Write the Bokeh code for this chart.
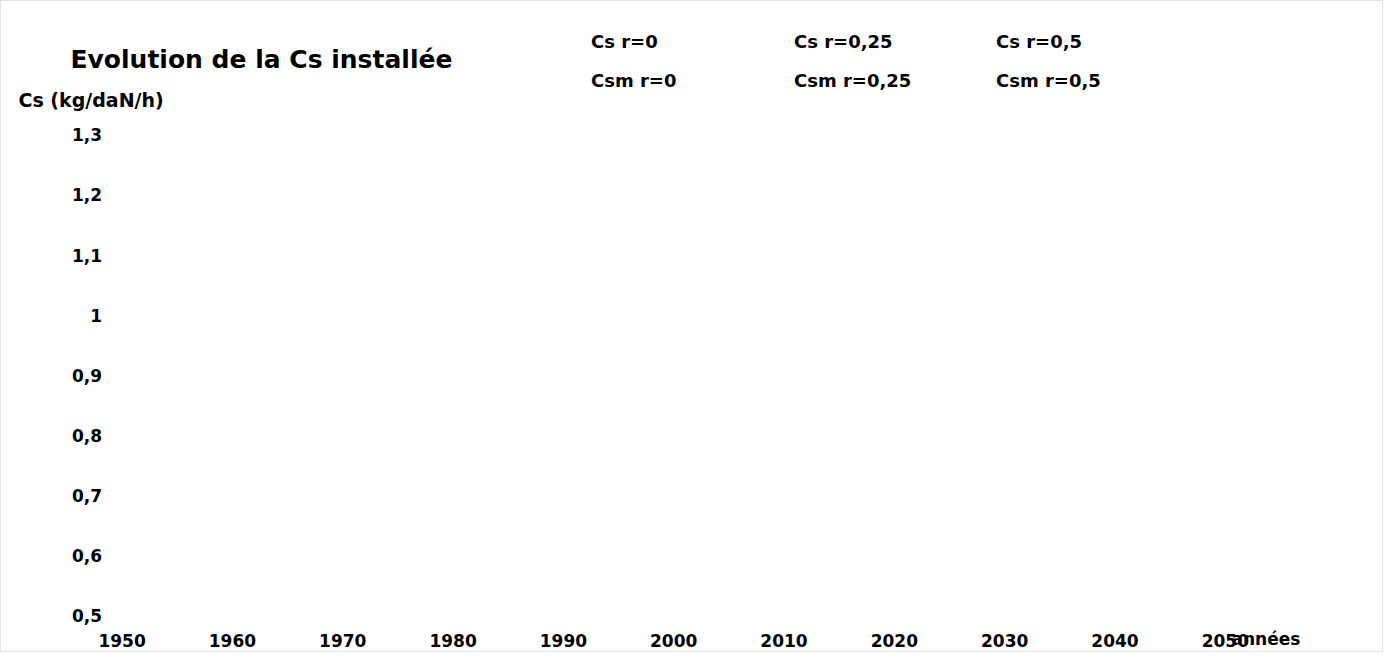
from bokeh.plotting import figure
from bokeh.models import Range1d, FixedTicker, Label, Legend, LegendItem
from bokeh.embed import file_html
from bokeh.resources import INLINE

# ---- data ----
years = [1950, 1960, 1970, 1980, 1990, 2000, 2010, 2020, 2030, 2040, 2050]
y_ticks = [0.5, 0.6, 0.7, 0.8, 0.9, 1.0, 1.1, 1.2, 1.3]
y_tick_labels = ["0,5", "0,6", "0,7", "0,8", "0,9", "1", "1,1", "1,2", "1,3"]
cs_names = ["Cs r=0", "Cs r=0,25", "Cs r=0,5"]
csm_names = ["Csm r=0", "Csm r=0,25", "Csm r=0,5"]
# the series contain no plotted points in the reference
cs_x = [[], [], []]
cs_y = [[], [], []]
csm_x = [[], [], []]
csm_y = [[], [], []]

title_text = "Evolution de la Cs installée"
y_label = "Cs (kg/daN/h)"
x_label = "années"

FONT = "DejaVu Sans"
W, H = 1383, 652

# layout: frame covers the whole canvas, axes pinned inside it
px_year = 11.032          # pixels per year
px_unit = 601.5           # pixels per y unit
x0_px, y0_px = 120.6, 614.4   # canvas position of (1950, 0.5)
x_start = years[0] - x0_px / px_year
x_end = years[0] + (W - x0_px) / px_year
y_start = y_ticks[0] - (H - y0_px) / px_unit
y_end = y_ticks[0] + y0_px / px_unit

p = figure(width=W, height=H, output_backend="svg", toolbar_location=None,
           x_range=Range1d(x_start, x_end), y_range=Range1d(y_start, y_end),
           min_border_left=0, min_border_right=0, min_border_top=0, min_border_bottom=0)
p.styles = {"border": "1px solid #e4e4e4"}
p.outline_line_color = None
p.xgrid.visible = False
p.ygrid.visible = False
p.background_fill_color = "white"
p.border_fill_color = "white"

for ax in (p.xaxis[0], p.yaxis[0]):
    ax.axis_line_color = None
    ax.major_tick_line_color = None
    ax.minor_tick_line_color = None
    ax.major_tick_out = 0
    ax.major_tick_in = 0
    ax.major_label_text_font = FONT
    ax.major_label_text_font_style = "bold"
    ax.major_label_text_font_size = "17px"
    ax.major_label_text_color = "black"

p.xaxis.ticker = FixedTicker(ticks=years)
p.xaxis.fixed_location = y_ticks[0]
p.xaxis.major_label_standoff = 18
p.yaxis.ticker = FixedTicker(ticks=y_ticks)
p.yaxis.major_label_overrides = {t: s for t, s in zip(y_ticks, y_tick_labels)}
p.yaxis.fixed_location = years[0]
p.yaxis.major_label_standoff = 20

colors = ["#004586", "#ff420e", "#ffd320"]
col_x = [589, 792, 994]
for i in range(3):
    r1 = p.line(cs_x[i], cs_y[i], line_alpha=0, line_color=colors[i])
    r2 = p.line(csm_x[i], csm_y[i], line_alpha=0, line_color=colors[i], line_dash="4 2")
    leg = Legend(items=[LegendItem(label=cs_names[i], renderers=[r1]),
                        LegendItem(label=csm_names[i], renderers=[r2])],
                 location=(col_x[i], 562), orientation="vertical",
                 glyph_width=1, glyph_height=20, label_height=20, label_standoff=0,
                 spacing=18, padding=0, margin=0,
                 border_line_alpha=0, background_fill_alpha=0,
                 label_text_font=FONT, label_text_font_style="bold",
                 label_text_font_size="18px", label_text_color="black")
    p.add_layout(leg)

p.add_layout(Label(x=69, y=594, x_units="screen", y_units="screen", text=title_text,
                   text_font=FONT, text_font_size="25px", text_font_style="bold",
                   text_baseline="middle", text_color="black"))
p.add_layout(Label(x=17, y=554, x_units="screen", y_units="screen", text=y_label,
                   text_font=FONT, text_font_size="19px", text_font_style="bold",
                   text_baseline="middle", text_color="black"))
p.add_layout(Label(x=1230, y=15, x_units="screen", y_units="screen", text=x_label,
                   text_font=FONT, text_font_size="17px", text_font_style="bold",
                   text_baseline="middle", text_color="black"))

open("out.html", "w").write(file_html(p, INLINE))
